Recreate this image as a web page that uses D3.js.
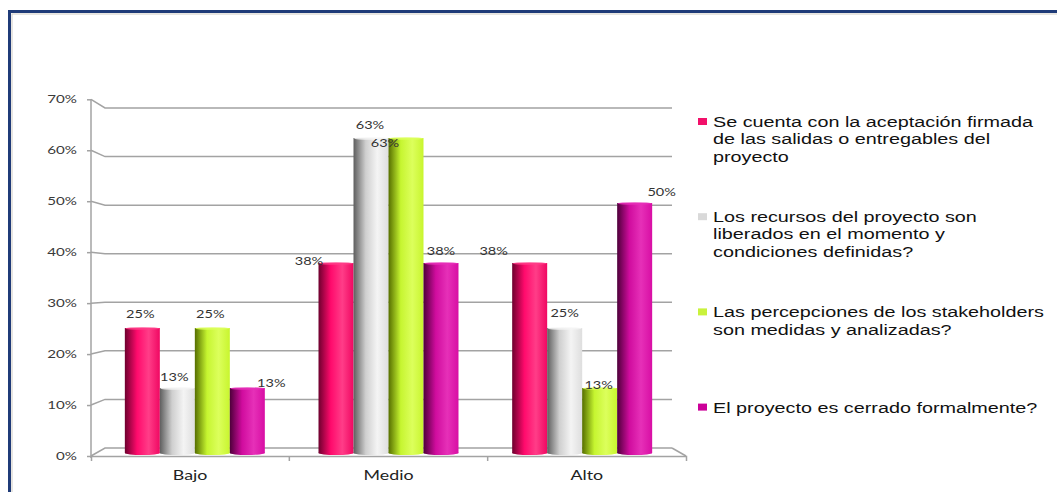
<!DOCTYPE html>
<html>
<head>
<meta charset="utf-8">
<script src="https://cdn.jsdelivr.net/npm/d3@7"></script>
<style>
  html, body { margin: 0; padding: 0; background: #fff; }
  svg { display: block; }
</style>
</head>
<body>
<svg id="chart" width="1057" height="492"></svg>
<script>
// Levels on the x axis
const categories = ["Bajo", "Medio", "Alto"];

// Series names (legend), with the line breaks used in the legend
const seriesNames = [
  "Se cuenta con la aceptación firmada de las salidas o entregables del proyecto",
  "Los recursos del proyecto son liberados en el momento y condiciones definidas?",
  "Las percepciones de los stakeholders son medidas y analizadas?",
  "El proyecto es cerrado formalmente?"
];
const seriesLines = [
  ["Se cuenta con la aceptación firmada", "de las salidas o entregables del", "proyecto"],
  ["Los recursos del proyecto son", "liberados en el momento y", "condiciones definidas?"],
  ["Las percepciones de los stakeholders", "son medidas y analizadas?"],
  ["El proyecto es cerrado formalmente?"]
];

// Share of answers per level, one array per series (Bajo, Medio, Alto)
const aceptacionFirmada   = [0.25, 0.38, 0.38];
const recursosLiberados   = [0.13, 0.63, 0.25];
const percepcionesMedidas = [0.25, 0.63, 0.13];
const cerradoFormalmente  = [0.13, 0.38, 0.50];
const seriesValues = [aceptacionFirmada, recursosLiberados, percepcionesMedidas, cerradoFormalmente];

// Y axis ticks
const yTicks = [0, 0.1, 0.2, 0.3, 0.4, 0.5, 0.6, 0.7];

// ---- styling ----
const colors = [
  { dark: "#6e002e", main: "#ff0a6c", light: "#ff3d88", end: "#f00862", key: "#f2106a" },
  { dark: "#5e5e5e", main: "#cfcfcf", light: "#f4f4f4", end: "#dedede", key: "#d9d9d9" },
  { dark: "#566e00", main: "#c6f530", light: "#dcff5c", end: "#c8f52e", key: "#c9f23c" },
  { dark: "#4e003a", main: "#d00c9e", light: "#e630b8", end: "#d80ea4", key: "#cc0099" }
];
// per-label nudges [dx, dy] (series x category), as the data labels are placed
const labelNudge = [
  [[-2, 0], [-27, 12], [-36, 2]],
  [[-3, 3], [-1, 1], [0, -1]],
  [[-2, 0], [-21, 19], [-1, 11]],
  [[24, 9], [0, 2], [27, 3]]
];
const SX = 1.32;                // horizontal stretch of all text
const axisFont = "Lato, 'DejaVu Sans', sans-serif";
const legendFont = "'Liberation Sans', Arial, sans-serif";
const gridColor = "#a3a3a3";

const svg = d3.select("#chart");

// chart frame
svg.append("rect")
  .attr("x", 12).attr("y", 14).attr("width", 1200).attr("height", 600)
  .attr("fill", "none").attr("stroke", "#d0ccc4").attr("stroke-width", 1);
svg.append("rect")
  .attr("x", 9.5).attr("y", 11.5).attr("width", 1200).attr("height", 600)
  .attr("fill", "none").attr("stroke", "#1f3b78").attr("stroke-width", 3);

// ---- scales ----
const yFront = d3.scaleLinear().domain([0, 0.7]).range([456, 99.3]);   // front axis
const yBack  = d3.scaleLinear().domain([0, 0.7]).range([448, 108]);    // back wall
const yBar   = d3.scaleLinear().domain([0, 0.7]).range([453, 103]);    // bars (mid depth)
const xFront = d3.scaleBand().domain(categories).range([91, 686]);
const xBack  = d3.scaleBand().domain(categories).range([105, 672]);
const xBar   = d3.scaleBand().domain(categories).range([98, 679]);
const x1 = d3.scaleBand().domain(d3.range(seriesNames.length))
  .range([0, xBar.bandwidth()]).paddingInner(0).paddingOuter(0.767);

// ---- back wall gridlines with their depth connectors ----
const grid = svg.append("g").attr("fill", "none").attr("stroke", gridColor).attr("stroke-width", 1.5);
const [bx0, bx1] = xBack.range();
const [fx0, fx1] = xFront.range();
grid.selectAll("path.gl").data(yTicks).join("path").attr("class", "gl")
  .attr("d", t => `M${fx0},${yFront(t)}L${bx0},${yBack(t)}H${bx1}`);
// floor right edge
grid.append("path").attr("d", `M${bx1},${yBack(0)}L${fx1},${yFront(0)}`);

// ---- y axis ----
const yAxis = svg.append("g").attr("transform", `translate(${fx0},0)`)
  .call(d3.axisLeft(yFront).tickValues(yTicks).tickFormat(d3.format(".0%"))
    .tickSize(4).tickSizeOuter(0).tickPadding(10));
yAxis.select(".domain").attr("stroke", gridColor).attr("stroke-width", 1.5)
  .attr("d", `M0,${yFront(0.7)}V${yFront(0) + 2}`);
yAxis.selectAll(".tick line").attr("stroke", gridColor).attr("stroke-width", 1.5);
yAxis.selectAll(".tick text")
  .attr("font-family", axisFont).attr("font-size", 11.5).attr("fill", "#3a3a3a")
  .attr("x", -14 / SX).attr("transform", `scale(${SX},1)`);

// ---- x axis (front floor edge) ----
const xAxis = svg.append("g").attr("transform", `translate(0,${yFront(0)})`)
  .call(d3.axisBottom(xFront).tickSize(0).tickSizeOuter(5).tickPadding(14.5));
xAxis.select(".domain").attr("stroke", gridColor).attr("stroke-width", 1.5);
xAxis.selectAll(".tick text")
  .attr("font-family", axisFont).attr("font-size", 13.5).attr("fill", "#222")
  .attr("transform", `scale(${SX},1)`);
// category boundary ticks
xAxis.selectAll("line.sep").data(categories.slice(1)).join("line").attr("class", "sep")
  .attr("x1", c => xFront(c)).attr("x2", c => xFront(c))
  .attr("y1", 0).attr("y2", 5)
  .attr("stroke", gridColor).attr("stroke-width", 1.5);

// ---- gradients for the cylindrical bars ----
const defs = svg.append("defs");
colors.forEach((c, i) => {
  const g = defs.append("linearGradient").attr("id", "bar" + i)
    .attr("x1", 0).attr("x2", 1).attr("y1", 0).attr("y2", 0);
  g.append("stop").attr("offset", "0%").attr("stop-color", c.dark);
  g.append("stop").attr("offset", "35%").attr("stop-color", c.main);
  g.append("stop").attr("offset", "68%").attr("stop-color", c.light);
  g.append("stop").attr("offset", "100%").attr("stop-color", c.end);
});

// ---- bars ----
const barData = [];
seriesValues.forEach((vals, s) => vals.forEach((v, ci) =>
  barData.push({ s, cat: categories[ci], ci, v })));

const bars = svg.append("g").selectAll("g.bar").data(barData).join("g").attr("class", "bar");
bars.append("rect")
  .attr("x", d => xBar(d.cat) + x1(d.s))
  .attr("y", d => yBar(d.v))
  .attr("width", x1.bandwidth())
  .attr("height", d => yBar(0) - yBar(d.v))
  .attr("fill", d => `url(#bar${d.s})`);
// rounded base
bars.append("ellipse")
  .attr("cx", d => xBar(d.cat) + x1(d.s) + x1.bandwidth() / 2)
  .attr("cy", yBar(0))
  .attr("rx", x1.bandwidth() / 2).attr("ry", 2)
  .attr("fill", d => `url(#bar${d.s})`);
// top rim
bars.append("ellipse")
  .attr("cx", d => xBar(d.cat) + x1(d.s) + x1.bandwidth() / 2)
  .attr("cy", d => yBar(d.v) + 0.5)
  .attr("rx", x1.bandwidth() / 2 - 0.5).attr("ry", 1.3)
  .attr("fill", d => colors[d.s].light).attr("opacity", 0.85);

// ---- data labels ----
const fmt = d3.format(".0%");
svg.append("g").selectAll("text").data(barData).join("text")
  .attr("transform", d => {
    const [dx, dy] = labelNudge[d.s][d.ci];
    const x = xBar(d.cat) + x1(d.s) + x1.bandwidth() / 2 + dx;
    const y = yBar(d.v) - 10 + dy;
    return `translate(${x},${y}) scale(${SX},1)`;
  })
  .attr("text-anchor", "middle")
  .attr("font-family", axisFont).attr("font-size", 11).attr("fill", "#333")
  .text(d => fmt(d.v));

// ---- legend ----
const legendX = 698, legendTop = 127, legendStep = 95.2, lineH = 17.3;
const legend = svg.append("g").selectAll("g").data(seriesNames).join("g")
  .attr("transform", (d, i) => `translate(${legendX},${legendTop + i * legendStep})`);
legend.append("rect")
  .attr("x", 0).attr("y", -9).attr("width", 9).attr("height", 7)
  .attr("fill", (d, i) => colors[i].key);
legend.each(function (d, i) {
  const t = d3.select(this).append("text")
    .attr("transform", `translate(15,0) scale(${SX},1)`)
    .attr("font-family", legendFont).attr("font-size", 15).attr("fill", "#111");
  seriesLines[i].forEach((line, k) =>
    t.append("tspan").attr("x", 0).attr("y", k * lineH).text(line));
});
</script>
</body>
</html>
